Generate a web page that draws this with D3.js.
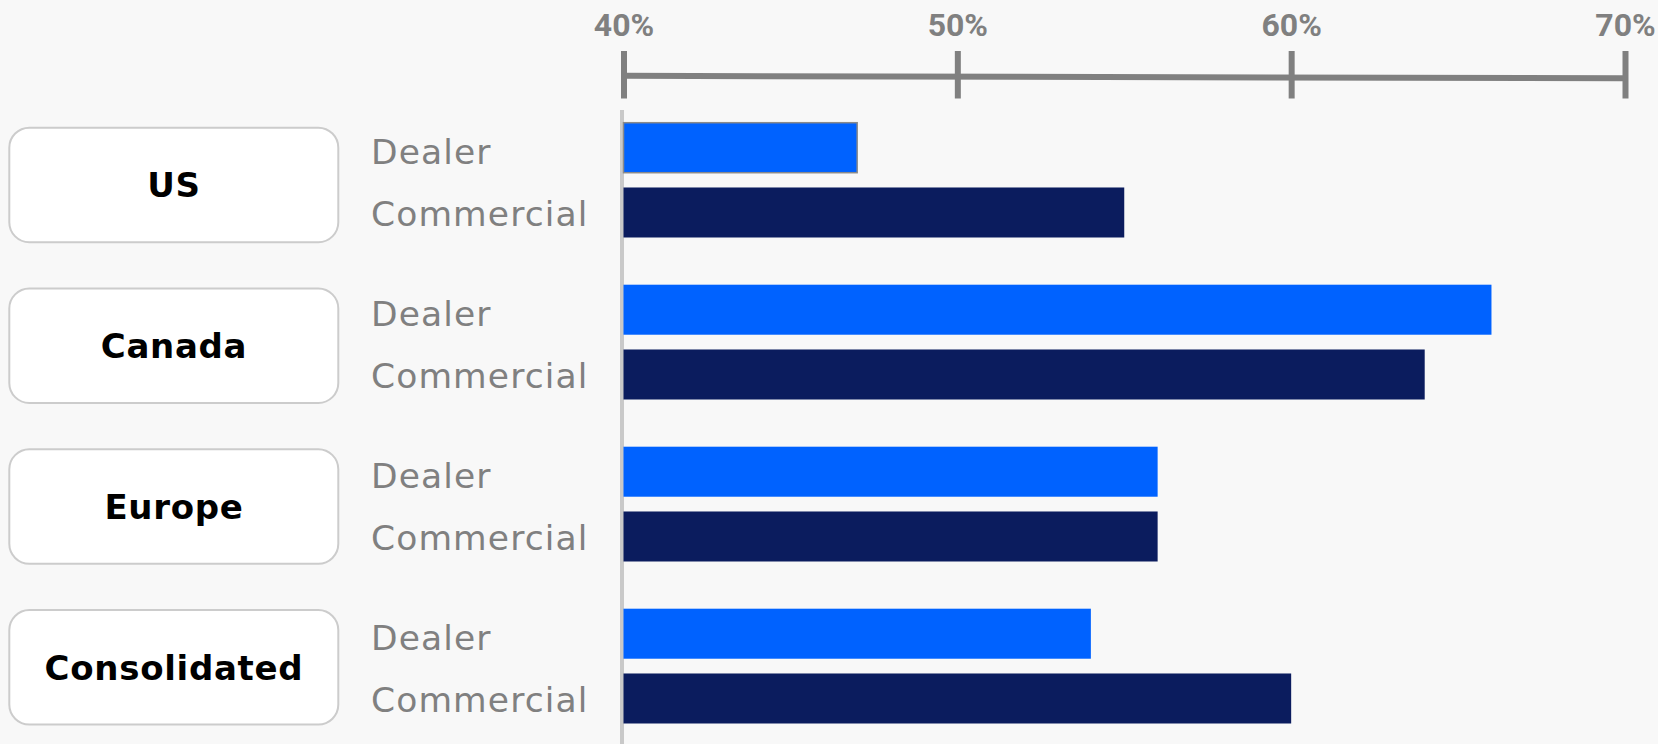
<!DOCTYPE html>
<html>
<head>
<meta charset="utf-8">
<script src="https://cdn.jsdelivr.net/npm/d3@7/dist/d3.min.js"></script>
<style>
  html, body { margin: 0; padding: 0; background: #f8f8f8; }
  svg { display: block; }
</style>
</head>
<body>
<svg id="chart" width="1658" height="744"></svg>
<script>
// ---- data ----
const regions = ["US", "Canada", "Europe", "Consolidated"];
const series = ["Dealer", "Commercial"];
const dealerValues = [47, 66, 56, 54];
const commercialValues = [55, 64, 56, 60];
const tickValues = [40, 50, 60, 70];
const tickLabels = ["40%", "50%", "60%", "70%"];

const rows = regions.map((r, i) => ({
  region: r,
  values: [
    { series: "Dealer", value: dealerValues[i] },
    { series: "Commercial", value: commercialValues[i] }
  ]
}));

// ---- layout ----
const W = 1658, H = 744;
const svg = d3.select("#chart");
svg.append("rect").attr("width", W).attr("height", H).attr("fill", "#f8f8f8");

const x = d3.scaleLinear().domain([40, 70]).range([623.5, 1625]);

const groupY = d3.scaleBand().domain(regions).range([109, 109 + 162 * 4]).padding(0);
const subY = d3.scaleBand().domain(series).range([13.7, 128.5]).paddingInner(0.228).paddingOuter(0);
const boxY = d3.scaleBand().domain(regions).range([126.7, 725.6]).paddingInner(0.2755).paddingOuter(0);

const colors = { Dealer: "#0062ff", Commercial: "#0b1c5e" };
const labelDy = { Dealer: 16.5, Commercial: 14 };

// ---- axis ----
const axis = d3.axisTop(x)
  .tickValues(tickValues)
  .tickFormat((d, i) => tickLabels[i])
  .tickSizeOuter(0);

const gAxis = svg.append("g").attr("transform", "translate(0,76)").call(axis);
gAxis.select(".domain")
  .attr("d", `M${x(40)},-0.2L${x(70)},2.3`)
  .attr("stroke", "#808080")
  .attr("stroke-width", 6)
  .attr("fill", "none");
gAxis.selectAll(".tick line")
  .attr("y1", -25).attr("y2", 22.5)
  .attr("stroke", "#808080")
  .attr("stroke-width", 6);
gAxis.selectAll(".tick text")
  .attr("y", -40.3).attr("dy", 0)
  .attr("fill", "#808080")
  .style("font-family", "Roboto, 'Liberation Sans', sans-serif")
  .style("font-weight", 700)
  .style("font-size", "32px");

// ---- baseline ----
svg.append("line")
  .attr("x1", x(40) - 1.5).attr("x2", x(40) - 1.5)
  .attr("y1", 110).attr("y2", H)
  .attr("stroke", "#c9c9c9")
  .attr("stroke-width", 4);

// ---- region boxes ----
const boxes = svg.append("g").selectAll("g").data(rows).join("g");
boxes.append("rect")
  .attr("x", 9.3)
  .attr("y", d => boxY(d.region) + 1)
  .attr("width", 329)
  .attr("height", boxY.bandwidth() - 2)
  .attr("rx", 20).attr("ry", 20)
  .attr("fill", "#ffffff")
  .attr("stroke", "#cccccc")
  .attr("stroke-width", 2);
boxes.append("text")
  .attr("x", 174)
  .attr("y", d => boxY(d.region) + boxY.bandwidth() / 2 + 12.2)
  .attr("text-anchor", "middle")
  .attr("fill", "#000000")
  .style("font-family", "'DejaVu Sans', sans-serif")
  .style("font-weight", 700)
  .style("font-size", "34px")
  .style("letter-spacing", "0.7px")
  .text(d => d.region);

// ---- bars & series labels ----
const groups = svg.append("g").selectAll("g").data(rows).join("g")
  .attr("transform", d => `translate(0,${groupY(d.region)})`);

groups.selectAll("rect.bar").data(d => d.values).join("rect")
  .attr("class", "bar")
  .attr("x", x(40))
  .attr("y", d => subY(d.series))
  .attr("width", d => x(d.value) - x(40))
  .attr("height", subY.bandwidth())
  .attr("fill", d => colors[d.series]);

// highlighted first bar (outlined in the reference)
groups.filter((d, i) => i === 0).select("rect.bar")
  .attr("stroke", "#8a8a8a")
  .attr("stroke-width", 1.5);

groups.selectAll("text.cat").data(d => d.values).join("text")
  .attr("class", "cat")
  .attr("x", 371)
  .attr("y", d => subY(d.series) + subY.bandwidth() / 2 + labelDy[d.series])
  .attr("fill", "#808080")
  .style("font-family", "'DejaVu Sans', sans-serif")
  .style("font-size", "34.5px")
  .style("letter-spacing", "1.1px")
  .text(d => d.series);
</script>
</body>
</html>
